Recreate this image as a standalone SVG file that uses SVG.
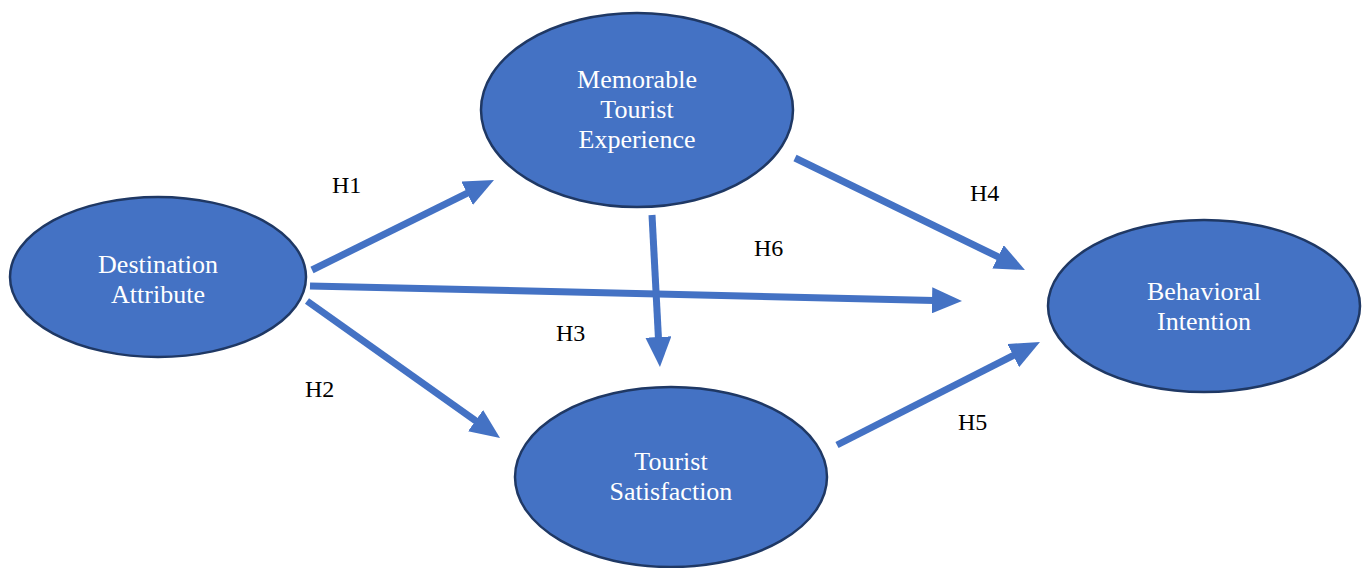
<svg xmlns="http://www.w3.org/2000/svg" width="1367" height="568" viewBox="0 0 1367 568">
<style>
.node{fill:#4472C4;stroke:#1F3864;stroke-width:2.5}
.nt{fill:#fff;font-family:"Liberation Serif",serif;font-size:26px;text-anchor:middle}
.lb{fill:#000;font-family:"Liberation Serif",serif;font-size:24px}
.c{stroke:#4472C4;stroke-width:7;fill:none;marker-end:url(#ah)}
</style>
<defs>
<marker id="ah" markerUnits="userSpaceOnUse" markerWidth="30" markerHeight="26" viewBox="0 0 30 26" refX="2" refY="13" orient="auto">
<path d="M0,0 L30,13 L0,26 Z" fill="#4472C4"/>
</marker>
</defs>
<rect width="1367" height="568" fill="#fff"/>
<g id="connectors">
<line class="c" x1="312" y1="270" x2="468.9" y2="192.4"/>
<line class="c" x1="310" y1="286" x2="934" y2="300.4"/>
<line class="c" x1="652" y1="215" x2="658.5" y2="339"/>
<line class="c" x1="795" y1="158" x2="999.8" y2="257.7"/>
<line class="c" x1="837" y1="445" x2="1015" y2="354.7"/>
<line class="c" x1="307" y1="301" x2="477.2" y2="421.8"/>
</g>
<g id="labels">
<text class="lb" x="332" y="193">H1</text>
<text class="lb" x="305" y="397">H2</text>
<text class="lb" x="556" y="341">H3</text>
<text class="lb" x="970" y="201">H4</text>
<text class="lb" x="958" y="430">H5</text>
<text class="lb" x="754" y="256">H6</text>
</g>
<g id="destination">
<ellipse class="node" cx="158" cy="277" rx="148" ry="80"/>
<text class="nt" x="158" y="273">Destination</text>
<text class="nt" x="158" y="303">Attribute</text>
</g>
<g id="memorable">
<ellipse class="node" cx="637" cy="110" rx="156" ry="97"/>
<text class="nt" x="637" y="88">Memorable</text>
<text class="nt" x="637" y="118">Tourist</text>
<text class="nt" x="637" y="148">Experience</text>
</g>
<g id="satisfaction">
<ellipse class="node" cx="671" cy="477" rx="156" ry="90"/>
<text class="nt" x="671" y="470">Tourist</text>
<text class="nt" x="671" y="500">Satisfaction</text>
</g>
<g id="behavioral">
<ellipse class="node" cx="1204" cy="306" rx="156" ry="86"/>
<text class="nt" x="1204" y="300">Behavioral</text>
<text class="nt" x="1204" y="330">Intention</text>
</g>
</svg>
